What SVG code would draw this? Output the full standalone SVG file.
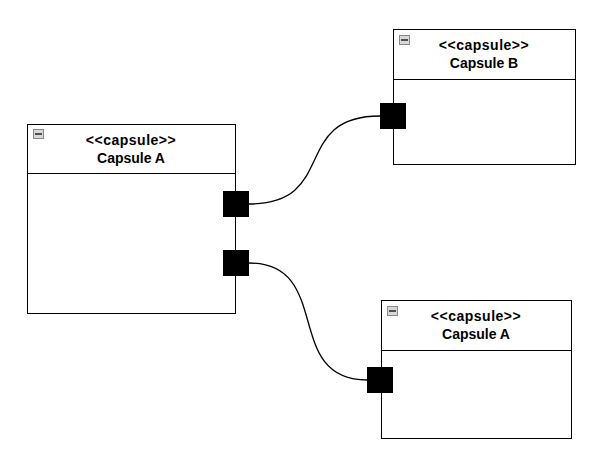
<svg xmlns="http://www.w3.org/2000/svg" width="589" height="455" viewBox="0 0 589 455">
<style>
.box{fill:#fff;stroke:#000;stroke-width:1}
.port{fill:#000;stroke:#000;stroke-width:1}
.t{font-family:"Liberation Sans",Arial,sans-serif;font-size:14px;font-weight:bold;text-anchor:middle;fill:#000}
.st{letter-spacing:0.5px}
.conn{fill:none;stroke:#000;stroke-width:1.3}
.icon{fill:#d8d8d8;stroke:#8a8a8a;stroke-width:1}
.iconbar{stroke:#222;stroke-width:1.5}
</style>
<rect width="589" height="455" fill="#fff"/>
<g id="connectors">
<path class="conn" d="M249,204 C339,204 290,116 380,116"/>
<path class="conn" d="M249,263 C334,263 282,380 367,380"/>
</g>
<g id="capsuleA1">
<rect class="box" x="27.5" y="124.5" width="208" height="189"/>
<line x1="27.5" y1="173.5" x2="235.5" y2="173.5" stroke="#000"/>
<rect class="icon" x="33.5" y="129.5" width="10" height="9"/>
<line class="iconbar" x1="35" y1="134" x2="42" y2="134"/>
<text class="t st" x="131" y="145">&lt;&lt;capsule&gt;&gt;</text>
<text class="t" x="131" y="163">Capsule A</text>
</g>
<g id="capsuleB">
<rect class="box" x="393.5" y="29.5" width="182" height="135"/>
<line x1="393.5" y1="79.5" x2="575.5" y2="79.5" stroke="#000"/>
<rect class="icon" x="399.5" y="35.5" width="10" height="9"/>
<line class="iconbar" x1="401" y1="40" x2="408" y2="40"/>
<text class="t st" x="484" y="50">&lt;&lt;capsule&gt;&gt;</text>
<text class="t" x="484" y="68">Capsule B</text>
</g>
<g id="capsuleA2">
<rect class="box" x="381.5" y="300.5" width="190" height="138"/>
<line x1="381.5" y1="350.5" x2="571.5" y2="350.5" stroke="#000"/>
<rect class="icon" x="387.5" y="306.5" width="10" height="9"/>
<line class="iconbar" x1="389" y1="311" x2="396" y2="311"/>
<text class="t st" x="476" y="321">&lt;&lt;capsule&gt;&gt;</text>
<text class="t" x="476" y="339">Capsule A</text>
</g>
<g id="port1"><rect class="port" x="223.5" y="191.5" width="25" height="25"/></g>
<g id="port2"><rect class="port" x="223.5" y="250.5" width="25" height="25"/></g>
<g id="portB"><rect class="port" x="380.5" y="103.5" width="25" height="25"/></g>
<g id="portA2"><rect class="port" x="367.5" y="367.5" width="25" height="25"/></g>
</svg>
